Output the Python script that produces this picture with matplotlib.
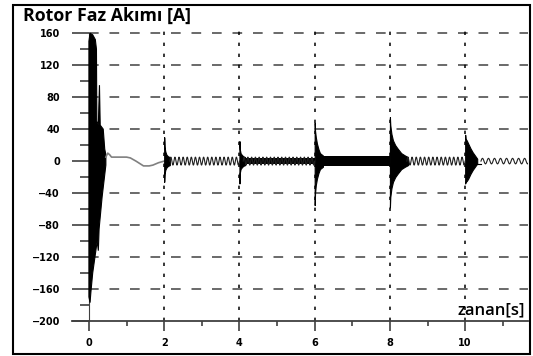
import numpy as np
import matplotlib
matplotlib.use('Agg')
import matplotlib.pyplot as plt
from matplotlib.patches import Rectangle

# start-up transient (envelope)
start_up_t = [0.0, 0.03, 0.1, 0.17, 0.2, 0.21, 0.25, 0.28, 0.3, 0.38, 0.42, 0.45]
start_up_y = [150, 160, 158, 152, 140, 50, 45, 95, 45, 40, 15, 8]
start_lo_t = [0.0, 0.03, 0.05, 0.1, 0.16, 0.22, 0.25, 0.27, 0.3, 0.35, 0.4, 0.45]
start_lo_y = [-170, -177, -165, -140, -120, -100, -112, -85, -70, -45, -25, -5]

# slow grey settling after start
settle_t = [0.45, 0.5, 0.55, 0.6, 0.8, 1.0, 1.1, 1.25, 1.45, 1.6, 1.7, 1.85, 2.0]
settle_y = [5, 10, 8, 5, 5, 5, 4, 0, -6, -6, -5, -2, 0]

# switching bursts: time, upper envelope, lower envelope
b2_t = [2.0, 2.01, 2.03, 2.06, 2.1, 2.15]
b2_up = [30, 18, 12, 8, 6, 5]
b2_lo = [-26, -16, -11, -8, -6, -5]
b4_t = [4.0, 4.01, 4.03, 4.06, 4.1, 4.15]
b4_up = [25, 15, 10, 8, 6, 5]
b4_lo = [-28, -15, -10, -8, -6, -5]
b6_t = [6.0, 6.01, 6.03, 6.06, 6.1, 6.14, 6.22]
b6_up = [48, 38, 30, 22, 15, 10, 7]
b6_lo = [-55, -40, -30, -22, -15, -10, -7]
b8_t = [8.0, 8.01, 8.04, 8.08, 8.14, 8.2, 8.3, 8.4, 8.48]
b8_up = [55, 45, 34, 26, 20, 16, 10, 7, 5]
b8_lo = [-58, -45, -34, -26, -20, -16, -10, -7, -5]
b10_t = [10.0, 10.01, 10.04, 10.08, 10.14, 10.2, 10.26, 10.32]
b10_up = [33, 28, 26, 22, 16, 11, 7, 3]
b10_lo = [-28, -26, -25, -22, -16, -11, -7, -3]

# steady ripple segments
ripple_start = [2.15, 4.1, 8.45, 10.42]
ripple_end = [4.0, 6.0, 10.0, 11.7]
ripple_amp = [5, 5, 5, 3.5]
ripple_cycles = [17, 19, 14, 8]

# solid dense bands
band_start = [4.1, 6.2]
band_end = [6.0, 8.0]
band_half = [3.5, 6]

tail_t = [10.3, 10.42]
tail_y = [-3, -3]

yticks = list(range(-200, 161, 40))
xticks = [0, 2, 4, 6, 8, 10]

fig = plt.figure(figsize=(5.33, 3.56), dpi=100)
ax = fig.add_axes([72/533, 35/356, 456/533, 291/356])
ax.set_xlim(-0.45, 11.67)
ax.set_ylim(-200, 164)

# grid
for v in yticks:
    if v in (0, -200):
        continue
    ax.plot([0, 11.67], [v, v], color='#505050', lw=1.2,
            linestyle=(0, (5.8, 6.5)), zorder=1)
for v in xticks[1:]:
    ax.axvline(v, color='black', lw=1.1, linestyle=(0, (2.2, 5)), zorder=1)

# signal
ax.fill(start_up_t + start_lo_t[::-1], start_up_y + start_lo_y[::-1],
        color='black', lw=0.8, zorder=3)
ax.plot(settle_t, settle_y, color='#808080', lw=1.2, zorder=3)
for bt, bu, bl in [(b2_t, b2_up, b2_lo), (b4_t, b4_up, b4_lo),
                   (b6_t, b6_up, b6_lo), (b8_t, b8_up, b8_lo),
                   (b10_t, b10_up, b10_lo)]:
    ax.fill_between(bt, bu, bl, color='black', lw=0.8, zorder=3)
for s, e, h in zip(band_start, band_end, band_half):
    ax.fill_between([s, e], [h, h], [-h, -h], color='black', lw=0, zorder=3)
for s, e, a, c in zip(ripple_start, ripple_end, ripple_amp, ripple_cycles):
    tt = np.linspace(s, e, c * 12 + 1)
    ax.plot(tt, a * np.sin(2 * np.pi * c * (tt - s) / (e - s)),
            color='#202020', lw=0.8, zorder=3)
ax.plot(tail_t, tail_y, color='black', lw=0.8, zorder=3)

# axes styling
for side in ('top', 'right'):
    ax.spines[side].set_visible(False)
ax.spines['left'].set_position(('data', 0))
ax.spines['left'].set_bounds(-200, 160)
ax.spines['left'].set_color('#404040')
ax.spines['bottom'].set_color('#404040')
ax.spines['bottom'].set_linewidth(1.3)

ax.set_yticks(yticks)
ax.set_yticks(list(range(-180, 161, 40)), minor=True)
ax.set_xticks(xticks)
ax.set_xticks([1, 3, 5, 7, 9, 11], minor=True)
ax.tick_params(axis='y', which='major', direction='out', length=12.2,
               width=1.2, color='#404040', pad=8.6)
ax.tick_params(axis='y', which='minor', direction='out', length=6.5,
               width=1.2, color='#404040')
ax.tick_params(axis='x', which='major', direction='out', length=7,
               width=1.2, color='#404040', pad=5)
ax.tick_params(axis='x', which='minor', direction='out', length=3.5,
               width=1.2, color='#404040')
for lab in ax.get_xticklabels() + ax.get_yticklabels():
    lab.set_fontsize(7)
    lab.set_fontweight('bold')

ax.text(11.6, -187, 'zanan[s]', ha='right', va='center', fontsize=12,
        family=['Open Sans', 'DejaVu Sans'], fontweight='semibold')

fig.text(23/533, 1 - 16/356, 'Rotor Faz Akımı [A]', ha='left', va='center',
         fontsize=12.8, fontweight='bold', family=['Open Sans', 'DejaVu Sans'])

fig.patches.append(Rectangle((13/533, 2/356), 517/533, 349/356, fill=False,
                             edgecolor='black', lw=1.5,
                             transform=fig.transFigure))

fig.savefig('out.png', dpi=100)
